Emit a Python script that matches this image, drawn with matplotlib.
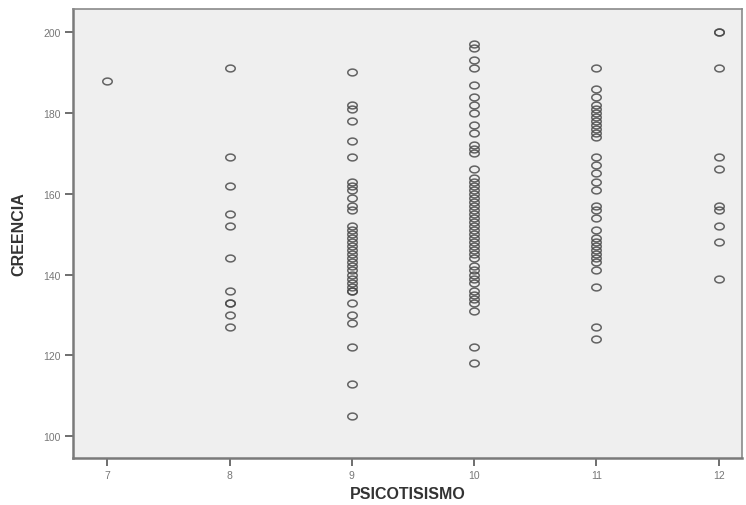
import matplotlib
matplotlib.use("Agg")
import matplotlib.pyplot as plt
import numpy as np
from matplotlib.path import Path

plt.rcParams["font.family"] = ["Liberation Sans", "DejaVu Sans"]

# Data: PSICOTISISMO (x) vs CREENCIA (y)
x7 = [188]
x8 = [191, 169, 162, 155, 152, 144, 136, 133, 133, 130, 127]
x9 = [190, 182, 181, 178, 173, 169, 163, 162, 161, 159, 157, 156, 152, 151,
      150, 149, 148, 147, 146, 145, 144, 143, 142, 141, 140, 139, 138, 137,
      136, 136, 133, 130, 128, 122, 113, 105]
x10 = [197, 196, 193, 191, 187, 184, 182, 180, 177, 175, 172, 171, 170, 166,
       164, 163, 162, 161, 160, 159, 158, 157, 156, 155, 154, 153, 152, 151,
       150, 149, 148, 147, 146, 145, 144, 142, 141, 140, 139, 138, 136, 135,
       134, 133, 131, 122, 118]
x11 = [191, 186, 184, 182, 181, 180, 179, 178, 177, 176, 175, 174, 169, 167,
       165, 163, 161, 157, 156, 154, 151, 149, 148, 147, 146, 145, 144, 143,
       141, 137, 127, 124]
x12 = [200, 200, 191, 169, 166, 157, 156, 152, 148, 139]

groups = {7: x7, 8: x8, 9: x9, 10: x10, 11: x11, 12: x12}
xticks = [7, 8, 9, 10, 11, 12]
yticks = [100, 120, 140, 160, 180, 200]

# slightly flattened circle marker, like the reference
t = np.linspace(0, 2*np.pi, 41)
ellipse = Path(np.column_stack([np.cos(t), 0.72*np.sin(t)]), closed=True)

fig = plt.figure(figsize=(7.46, 5.06), dpi=100)
ax = fig.add_axes([73/746, 1-459/506, (742-73)/746, (459-10)/506])
ax.set_facecolor("#efefef")

for k, vals in groups.items():
    ax.plot([k]*len(vals), vals, linestyle="none", marker=ellipse, markersize=6.8,
            markerfacecolor="none", markeredgecolor="#4a4a4a", markeredgewidth=1.1,
            alpha=0.85)

ax.set_xlim(6.72, 12.19)
ax.set_ylim(94.6, 205.7)
ax.set_xticks(xticks)
ax.set_yticks(yticks)
ax.tick_params(axis="both", direction="out", length=6, width=1.2, colors="#555555",
               labelsize=7.5, labelcolor="#777777", pad=3)
for s in ["left", "bottom"]:
    ax.spines[s].set_color("#7a7a7a")
    ax.spines[s].set_linewidth(1.8)
for s in ["top", "right"]:
    ax.spines[s].set_color("#8a8a8a")
    ax.spines[s].set_linewidth(1.2)

ax.set_xlabel("PSICOTISISMO", fontsize=11.5, fontweight="bold", color="#333333", labelpad=4)
ax.set_ylabel("CREENCIA", fontsize=11.5, fontweight="bold", color="#333333", labelpad=12)

fig.savefig("out.png", dpi=100, facecolor="white")
